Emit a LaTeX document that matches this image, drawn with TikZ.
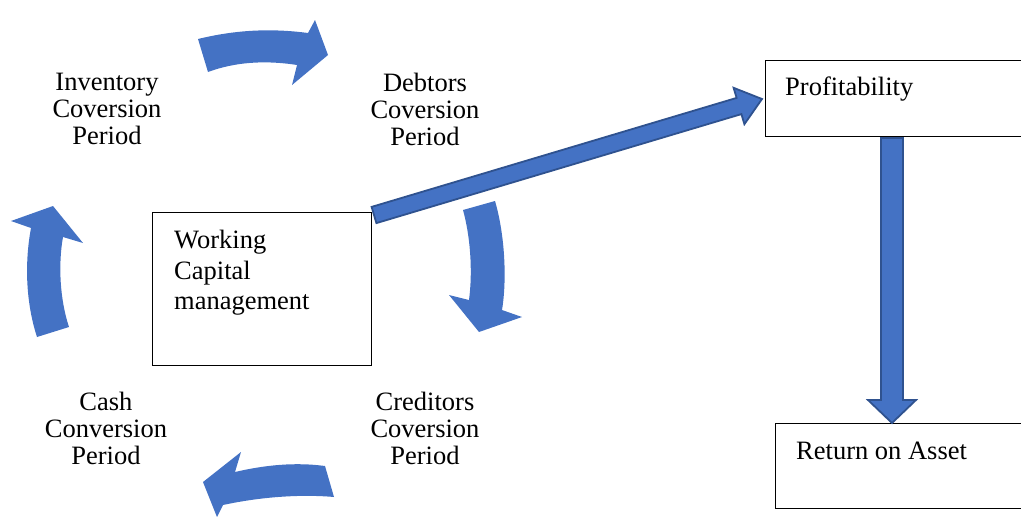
\documentclass[tikz,border=0pt]{standalone}
\usepackage{fontspec}
\setmainfont{Liberation Serif}
\begin{document}
\begin{tikzpicture}[x=1pt,y=-1pt,
  lbl/.style={align=center,font=\fontsize{26.5}{27}\selectfont,inner sep=0pt},
  boxtxt/.style={align=left,font=\fontsize{26.5}{30.5}\selectfont,inner sep=0pt,anchor=west},
  box/.style={draw=black,line width=0.9pt,inner sep=0pt,anchor=north west},
  cyc/.style={fill=arrowblue,draw=none},
  bigarrow/.style={fill=arrowblue,draw=arrowedge,line width=1.8pt,line join=miter}]
\definecolor{arrowblue}{HTML}{4472C4}
\definecolor{arrowedge}{HTML}{2F528F}
\useasboundingbox (0,0) rectangle (1021,517);
\clip (0,0) rectangle (1021,517);

% boxes
\node[box,minimum width=219pt,minimum height=153pt] (wcbox) at (152,212) {};
\node[boxtxt] (wctext) at (174,273) {Working\\Capital\\management};
\node[box,minimum width=300pt,minimum height=76pt] (pbox) at (765,60) {};
\node[boxtxt] (ptext) at (785,89) {Profitability};
\node[box,minimum width=300pt,minimum height=85pt] (rbox) at (775,423) {};
\node[boxtxt] (rtext) at (796,451) {Return on Asset};

% cycle labels
\node[lbl] (inv) at (107,109) {Inventory\\Coversion\\Period};
\node[lbl] (deb) at (425,109) {Debtors\\Coversion\\Period};
\node[lbl] (cash) at (106,428) {Cash\\Conversion\\Period};
\node[lbl] (cred) at (425,428) {Creditors\\Coversion\\Period};

% curved cycle arrows
\fill[cyc] (198,39) .. controls (235,30) and (270,28) .. (308,33) -- (315,20) -- (328,55) -- (292,85) -- (297,65) .. controls (265,60) and (235,62) .. (208,72) -- cycle;
\fill[cyc] (463,210) .. controls (470,235) and (473,270) .. (469,300) -- (449,295) -- (479,332) -- (522,317) -- (502,310) .. controls (507,280) and (505,235) .. (495,201) -- cycle;
\fill[cyc] (325,466) .. controls (295,462) and (265,465) .. (235,472) -- (241,452) -- (203,482) -- (217,517) -- (223,505) .. controls (260,497) and (300,494) .. (334,497) -- cycle;
\fill[cyc] (37,337) .. controls (25,300) and (25,260) .. (31,228) -- (11,221) -- (53,206) -- (83,243) -- (63,237) .. controls (58,265) and (60,300) .. (69,327) -- cycle;

% WC -> Profitability
\coordinate (s) at (374,215);
\coordinate (e) at (762,99);
\draw[bigarrow] (371.6,206.9) -- (736.6,97.9) -- (733.6,87.8) -- (e) -- (744.4,124.2) -- (741.4,114.1) -- (376.4,223.1) -- cycle;

% Profitability -> Return on Asset
\coordinate (vt) at (892,138);
\coordinate (vb) at (892,423);
\draw[bigarrow] (881,138) -- (881,400) -- (868,400) -- (vb) -- (916,400) -- (903,400) -- (903,138) -- cycle;
\end{tikzpicture}
\end{document}
